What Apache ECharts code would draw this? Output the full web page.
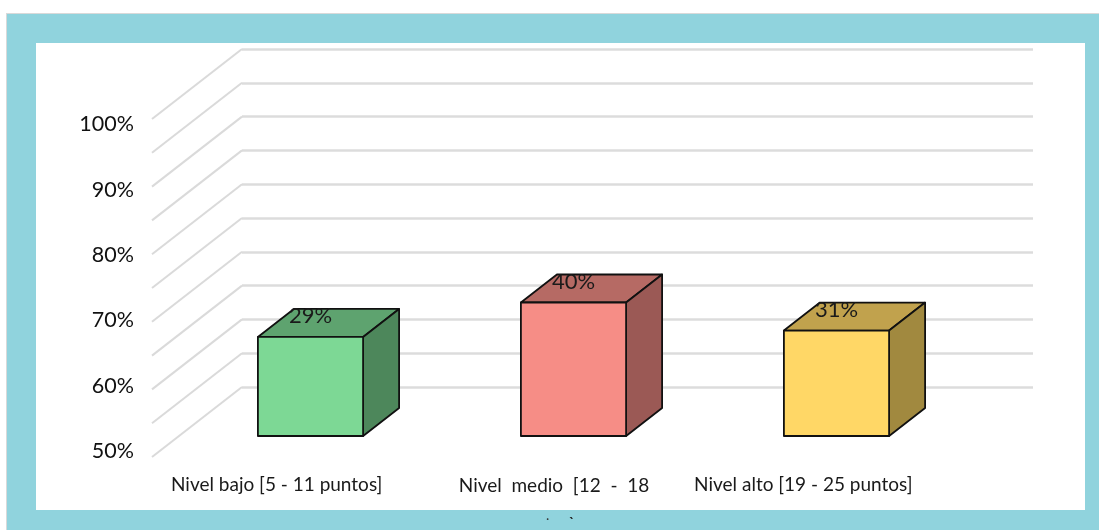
<!DOCTYPE html>
<html>
<head>
<meta charset="utf-8">
<style>
  html, body { margin: 0; padding: 0; background: #fff; }
  #plot { width: 1099px; height: 530px; }
</style>
<script src="https://cdn.jsdelivr.net/npm/echarts@6/dist/echarts.min.js"></script>
</head>
<body>
<div id="plot"></div>
<script>
// data
var categories = ['Nivel bajo [5 - 11 puntos]', 'Nivel  medio  [12  -  18', 'Nivel alto [19 - 25 puntos]'];
var values = [29.3, 39.5, 31.2];
var gridValues = [0, 10, 20, 30, 40, 50, 60, 70, 80, 90, 100];

// front face, top face, side face
var barColors = [
  ['#7DD895', '#5EA36F', '#4D875B'],
  ['#F68D86', '#B66A64', '#9B5955'],
  ['#FFD766', '#C1A24D', '#A1893F']
];

// fake 3D projection: floor depth in px, bars stand between depth 0.3 and 0.7
var DEPTH_X = 90, DEPTH_Y = 70;
var BAR_BACK = 0.3, BAR_FRONT = 0.7;
var FONT = 'Lato, "Open Sans", sans-serif';

function project(pt, d) {
  return [pt[0] - DEPTH_X * d, pt[1] + DEPTH_Y * d];
}

function renderDepthLine(params, api) {
  var y = api.coord([0, api.value(1)])[1];
  var back = [params.coordSys.x, y];
  var front = project(back, 1);
  return {
    type: 'line',
    shape: { x1: back[0], y1: back[1], x2: front[0], y2: front[1] },
    style: { stroke: '#dadada', lineWidth: 2 }
  };
}

function renderBar(params, api) {
  var i = api.value(0);
  var v = api.value(1);
  var top = api.coord([i, v]);
  var base = api.coord([i, 0]);
  var half = api.size([1, 0])[0] * 0.4 / 2;
  var colors = barColors[i];
  var edge = { stroke: '#111', lineWidth: 1.8, lineJoin: 'round' };

  var fTL = project([top[0] - half, top[1]], BAR_FRONT);
  var fTR = project([top[0] + half, top[1]], BAR_FRONT);
  var fBL = project([base[0] - half, base[1]], BAR_FRONT);
  var fBR = project([base[0] + half, base[1]], BAR_FRONT);
  var bTL = project([top[0] - half, top[1]], BAR_BACK);
  var bTR = project([top[0] + half, top[1]], BAR_BACK);
  var bBR = project([base[0] + half, base[1]], BAR_BACK);

  function face(points, fill) {
    return {
      type: 'polygon',
      shape: { points: points },
      style: Object.assign({ fill: fill }, edge)
    };
  }

  return {
    type: 'group',
    children: [
      face([fTL, fTR, bTR, bTL], colors[1]),
      face([fTR, fBR, bBR, bTR], colors[2]),
      face([fTL, fTR, fBR, fBL], colors[0]),
      {
        type: 'text',
        style: {
          text: Math.round(v) + '%',
          x: (fTL[0] + fTR[0]) / 2,
          y: fTL[1] - 21,
          fill: '#1a1a1a',
          font: '22px ' + FONT,
          align: 'center',
          verticalAlign: 'middle'
        }
      }
    ]
  };
}

var myChart = echarts.init(document.getElementById('plot'));

var option = {
  animation: false,
  // back wall, axis labels, category labels and bars each have their own grid
  grid: [
    { left: 242, top: 49, width: 791, height: 338 },
    { left: 142, top: 124.5, width: 10, height: 326.5 },
    { left: 145, top: 470, width: 790, height: 1 },
    { left: 242, top: 49, width: 789, height: 338 }
  ],
  graphic: [
    { type: 'rect', z: -10, shape: { x: 6, y: 13, width: 1093, height: 517 }, style: { fill: '#d9d9d9' } },
    { type: 'rect', z: -9, shape: { x: 7, y: 14, width: 1092, height: 516 }, style: { fill: '#90D3DD' } },
    { type: 'rect', z: -8, shape: { x: 36, y: 43, width: 1049, height: 467 }, style: { fill: '#fff' } },
    // rest of the clipped second line of the middle label
    { type: 'text', z: 5, style: { x: 546, y: 508, text: '.', fill: '#333', font: '14px ' + FONT } },
    { type: 'text', z: 5, style: { x: 569, y: 515, text: '`', fill: '#222', font: 'bold 14px ' + FONT } }
  ],
  xAxis: [
    {
      gridIndex: 0, type: 'category', data: categories,
      axisLine: { show: false }, axisTick: { show: false }, axisLabel: { show: false }
    },
    { gridIndex: 1, type: 'category', show: false, data: [''] },
    {
      gridIndex: 2, type: 'category',
      data: [
        categories[0],
        { value: categories[1], textStyle: { padding: [1, 0, 0, 28] } },
        categories[2]
      ],
      axisLine: { show: false }, axisTick: { show: false },
      axisLabel: { margin: 4, interval: 0, fontSize: 19, color: '#1a1a1a', fontFamily: FONT, hideOverlap: false }
    },
    { gridIndex: 3, type: 'category', show: false, data: categories }
  ],
  yAxis: [
    {
      gridIndex: 0, type: 'value', min: 0, max: 100, interval: 10,
      axisLine: { show: false }, axisTick: { show: false }, axisLabel: { show: false },
      splitLine: { lineStyle: { color: '#dcdcdc', width: 2.5 } }
    },
    {
      gridIndex: 1, type: 'value', min: 50, max: 100, interval: 10,
      axisLine: { show: false }, axisTick: { show: false }, splitLine: { show: false },
      axisLabel: { margin: 8, fontSize: 21.5, color: '#111', fontFamily: FONT, formatter: '{value}%' }
    },
    { gridIndex: 2, type: 'value', show: false, splitLine: { show: false } },
    { gridIndex: 3, type: 'value', show: false, min: 0, max: 100, splitLine: { show: false } }
  ],
  series: [
    {
      name: 'depth lines',
      type: 'custom',
      xAxisIndex: 0,
      yAxisIndex: 0,
      z: 1,
      silent: true,
      renderItem: renderDepthLine,
      data: gridValues.map(function (v) { return [0, v]; })
    },
    {
      name: 'Nivel',
      type: 'custom',
      xAxisIndex: 3,
      yAxisIndex: 3,
      z: 3,
      renderItem: renderBar,
      data: values.map(function (v, i) { return [i, v]; })
    }
  ]
};

myChart.setOption(option);
</script>
</body>
</html>
